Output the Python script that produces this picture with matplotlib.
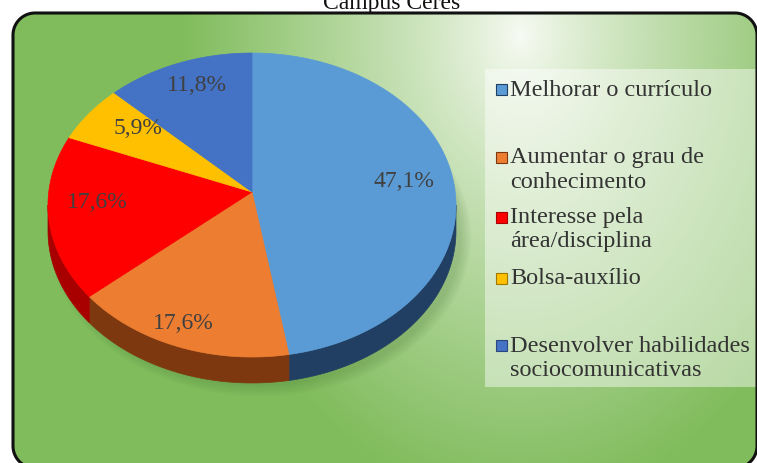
import numpy as np
import matplotlib
matplotlib.use("Agg")
import matplotlib.pyplot as plt
from matplotlib.patches import Polygon, Rectangle, Ellipse
import matplotlib.colors as mcolors

# data
categories = ["Melhorar o currículo", "Aumentar o grau de\nconhecimento",
              "Interesse pela\nárea/disciplina", "Bolsa-auxílio",
              "Desenvolver habilidades\nsociocomunicativas"]
values = [47.1, 17.6, 17.6, 5.9, 11.8]
top_colors = ["#5B9BD5", "#ED7D31", "#FF0000", "#FFC000", "#4472C4"]
side_colors = ["#213F63", "#7E3810", "#A80000", "#A07800", "#2A4780"]
title = "Campus Ceres"

W, H = 757, 463
fig = plt.figure(figsize=(W / 100, H / 100), dpi=100)
ax = fig.add_axes([0, 0, 1, 1])
ax.set_xlim(0, W)
ax.set_ylim(H, 0)
ax.axis("off")


def rounded_rect(x0, y0, x1, y1, r, n=20):
    pts = []
    corners = [(x1 - r, y0 + r, -90, 0), (x1 - r, y1 - r, 0, 90),
               (x0 + r, y1 - r, 90, 180), (x0 + r, y0 + r, 180, 270)]
    for ccx, ccy, t0, t1 in corners:
        tt = np.radians(np.linspace(t0, t1, n))
        pts.append(np.column_stack([ccx + r * np.cos(tt), ccy + r * np.sin(tt)]))
    return np.vstack(pts)


# rounded frame with radial green gradient
frame_pts = rounded_rect(13, 13, 757, 468, 22)
frame = Polygon(frame_pts, closed=True, facecolor="none", edgecolor="#111111",
                linewidth=2.2, zorder=3)
ax.add_patch(frame)
yy, xx = np.mgrid[0:H, 0:W]
d = np.sqrt(((xx - 520) / 340.0) ** 2 + ((yy - 35) / 470.0) ** 2)
t = np.clip(d, 0, 1) ** 0.85
c0 = np.array(mcolors.to_rgb("#F8FBF4"))
c1 = np.array(mcolors.to_rgb("#80BC5C"))
img = c0[None, None, :] * (1 - t[..., None]) + c1[None, None, :] * t[..., None]
im = ax.imshow(img, extent=(0, W, H, 0), zorder=0, interpolation="bilinear")
clip = Polygon(frame_pts, closed=True, facecolor="none", edgecolor="none",
               transform=ax.transData)
im.set_clip_path(clip)

# title (cut by the top of the picture, as in the source)
ax.text(392, 9, title, ha="center", va="baseline", fontsize=17,
        family="Liberation Serif", color="#111111")

# pseudo-3D pie
cx, cy, rx, ry = 252, 205, 204, 152
apex = (252, 192)
depth = 26

# soft shadow
for k in range(6):
    ax.add_patch(Ellipse((cx + 8, cy + depth + 6), 2 * rx + 14 - 4 * k, 2 * ry + 14 - 4 * k,
                         facecolor="#3d6b2a", alpha=0.04, edgecolor="none", zorder=1))

fracs = np.array(values) / np.sum(values)
bounds = np.concatenate([[0], np.cumsum(fracs)]) * 2 * np.pi


def pt(a, dy=0):
    return np.column_stack([cx + rx * np.sin(a), cy - ry * np.cos(a) + dy])


# sides: visible where the rim faces the viewer (between 90 and 270 deg)
for i in range(len(values)):
    a0 = max(bounds[i], np.pi / 2)
    a1 = min(bounds[i + 1], 3 * np.pi / 2)
    if a1 <= a0:
        continue
    a = np.linspace(a0, a1, 80)
    upper = pt(a)
    lower = pt(a[::-1], depth)
    ax.add_patch(Polygon(np.vstack([upper, lower]), closed=True, facecolor=side_colors[i],
                         edgecolor=side_colors[i], linewidth=0.5, zorder=2))

# top faces
for i in range(len(values)):
    a = np.linspace(bounds[i], bounds[i + 1], 120)
    poly = np.vstack([[apex], pt(a)])
    ax.add_patch(Polygon(poly, closed=True, facecolor=top_colors[i],
                         edgecolor=top_colors[i], linewidth=0.5, zorder=4))

# percentage labels
label_r = [0.75, 0.93, 0.76, 0.70, 0.75]
for i, v in enumerate(values):
    mid = (bounds[i] + bounds[i + 1]) / 2
    x = apex[0] + label_r[i] * rx * np.sin(mid)
    y = apex[1] - label_r[i] * ry * np.cos(mid)
    ax.text(x, y, f"{v:.1f}%".replace(".", ","), ha="center", va="center",
            fontsize=17, family="Liberation Serif", color="#404040", zorder=5)

# legend
ax.add_patch(Rectangle((485, 69), 275, 318, facecolor="white", alpha=0.45,
                       edgecolor="none", zorder=2))
leg_y = [89, 157, 217, 278, 345]
for i, name in enumerate(categories):
    ax.add_patch(Rectangle((496, leg_y[i] - 5.5), 11, 11, facecolor=top_colors[i],
                           edgecolor=side_colors[i], linewidth=0.8, zorder=5))
    for j, line in enumerate(name.split("\n")):
        ax.text(510, leg_y[i] + 6.5 + 24 * j, line, ha="left", va="baseline",
                fontsize=17.5, family="Liberation Serif", color="#333333", zorder=5)

fig.savefig("out.png", dpi=100)
